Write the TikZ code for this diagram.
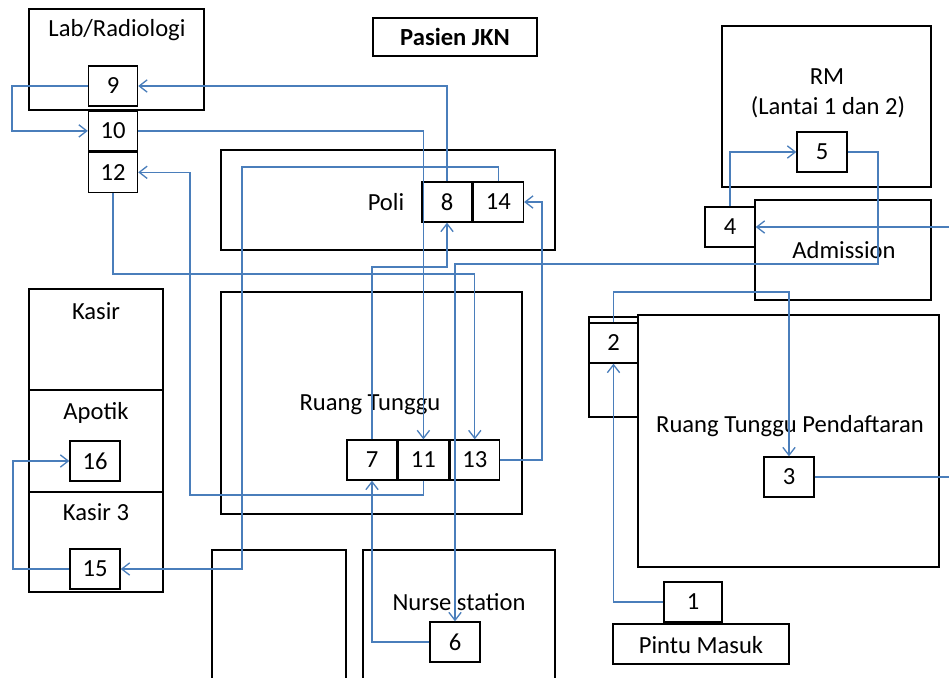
\documentclass[tikz,border=0pt]{standalone}
\usepackage{fontspec}
\setmainfont{Carlito}
\usetikzlibrary{arrows.meta,positioning}
\definecolor{flowblue}{RGB}{74,126,187}

\begin{document}
\begin{tikzpicture}[x=0.02cm, y=-0.02cm, font=\fontsize{14}{16}\selectfont,
    room/.style={line width=0.8pt},
    stepbox/.style={draw, fill=white, line width=0.8pt, minimum width=1cm, minimum height=0.8cm, inner sep=0pt},
    flow/.style={flowblue, line width=0.75pt, -{Straight Barb[length=4.5pt,width=7pt]}}]
  \useasboundingbox (0,0) rectangle (949,677);
  % rooms
  \draw[room] (29,9) rectangle (204,110);
  \draw[room] (373,18) rectangle (537,56);
  \draw[room] (722,26) rectangle (931,187);
  \draw[room] (755,200) rectangle (931,300);
  \draw[room] (221,150) rectangle (555,250);
  \draw[room] (221,292) rectangle (522,514);
  \draw[room] (29,289) rectangle (163,592) (29,390) -- (163,390) (29,492) -- (163,492);
  \draw[room] (212,550) rectangle (346,680);
  \draw[room] (363,550) rectangle (555,680);
  \draw[room] (589,317) rectangle (638,417) (589,323) -- (638,323);
  \draw[room] (638,315) rectangle (939,567);
  \draw[room] (613,624) rectangle (789,664);
  % room names
  \node (lab) at (117,30) {Lab/Radiologi};
  \node (jkn) at (455,37) {\bfseries Pasien JKN};
  \node (rm) at (827,77) {RM};
  \node (lantai) at (828,107) {(Lantai 1 dan 2)};
  \node (adm) at (844,250) {Admission};
  \node (poli) at (386,202) {Poli};
  \node (rt) at (370,405) {Ruang Tunggu};
  \node (kasir) at (96,311) {Kasir};
  \node (apotik) at (96,413) {Apotik};
  \node (kasir3) at (96,512) {Kasir 3};
  \node (nurse) at (459,602) {Nurse station};
  \node (rtp) at (790,426) {Ruang Tunggu Pendaftaran};
  \node (pintu) at (701,645) {Pintu Masuk};
  % steps
  \node[stepbox, minimum width=1.16cm] (n1) at (693,602) {1};
  \node[stepbox, minimum width=0.98cm] (n2) at (613.5,343) {2};
  \node[stepbox] (n3) at (789,477) {3};
  \node[stepbox] (n4) at (730,227) {4};
  \node[stepbox] (n5) at (822,152) {5};
  \node[stepbox] (n6) at (455,642) {6};
  \node[stepbox] (n7) at (372,460) {7};
  \node[stepbox, right=0pt of n7] (n11) {11};
  \node[stepbox, right=0pt of n11] (n13) {13};
  \node[stepbox] (n8) at (447,202) {8};
  \node[stepbox, right=0pt of n8] (n14) {14};
  \node[stepbox, minimum width=0.98cm] (n9) at (113,86) {9};
  \node[stepbox, minimum width=0.98cm, below=2pt of n9] (n10) {10};
  \node[stepbox, minimum width=0.98cm, below=0pt of n10] (n12) {12};
  \node[stepbox] (n16) at (95,461) {16};
  \node[stepbox] (n15) at (95,569) {15};
  % flow
  \draw[flow] (n1) -| (n2);
  \draw[flow] (n2) |- (700,292) -| (n3);
  \draw[flow] (n3) -| (955,300) |- (n4);
  \draw[flow] (n4) |- (n5);
  \draw[flow] (n5) -| (878,200) |- (600,264) -| (n6);
  \draw[flow] (n6) -| (n7);
  \draw[flow] (n7) |- (400,267) -| (n8);
  \draw[flow] (n8) |- (n9);
  \draw[flow] (n9) -| (12,100) |- (n10);
  \draw[flow] (n10) -| (n11);
  \draw[flow] (n11) |- (190,495) |- (n12);
  \draw[flow] (n12) |- (300,274) -| (n13);
  \draw[flow] (n13) -| (542,300) |- (n14);
  \draw[flow] (n14) |- (300,167) -| (242,400) |- (n15);
  \draw[flow] (n15) -| (13,500) |- (n16);
\end{tikzpicture}
\end{document}
